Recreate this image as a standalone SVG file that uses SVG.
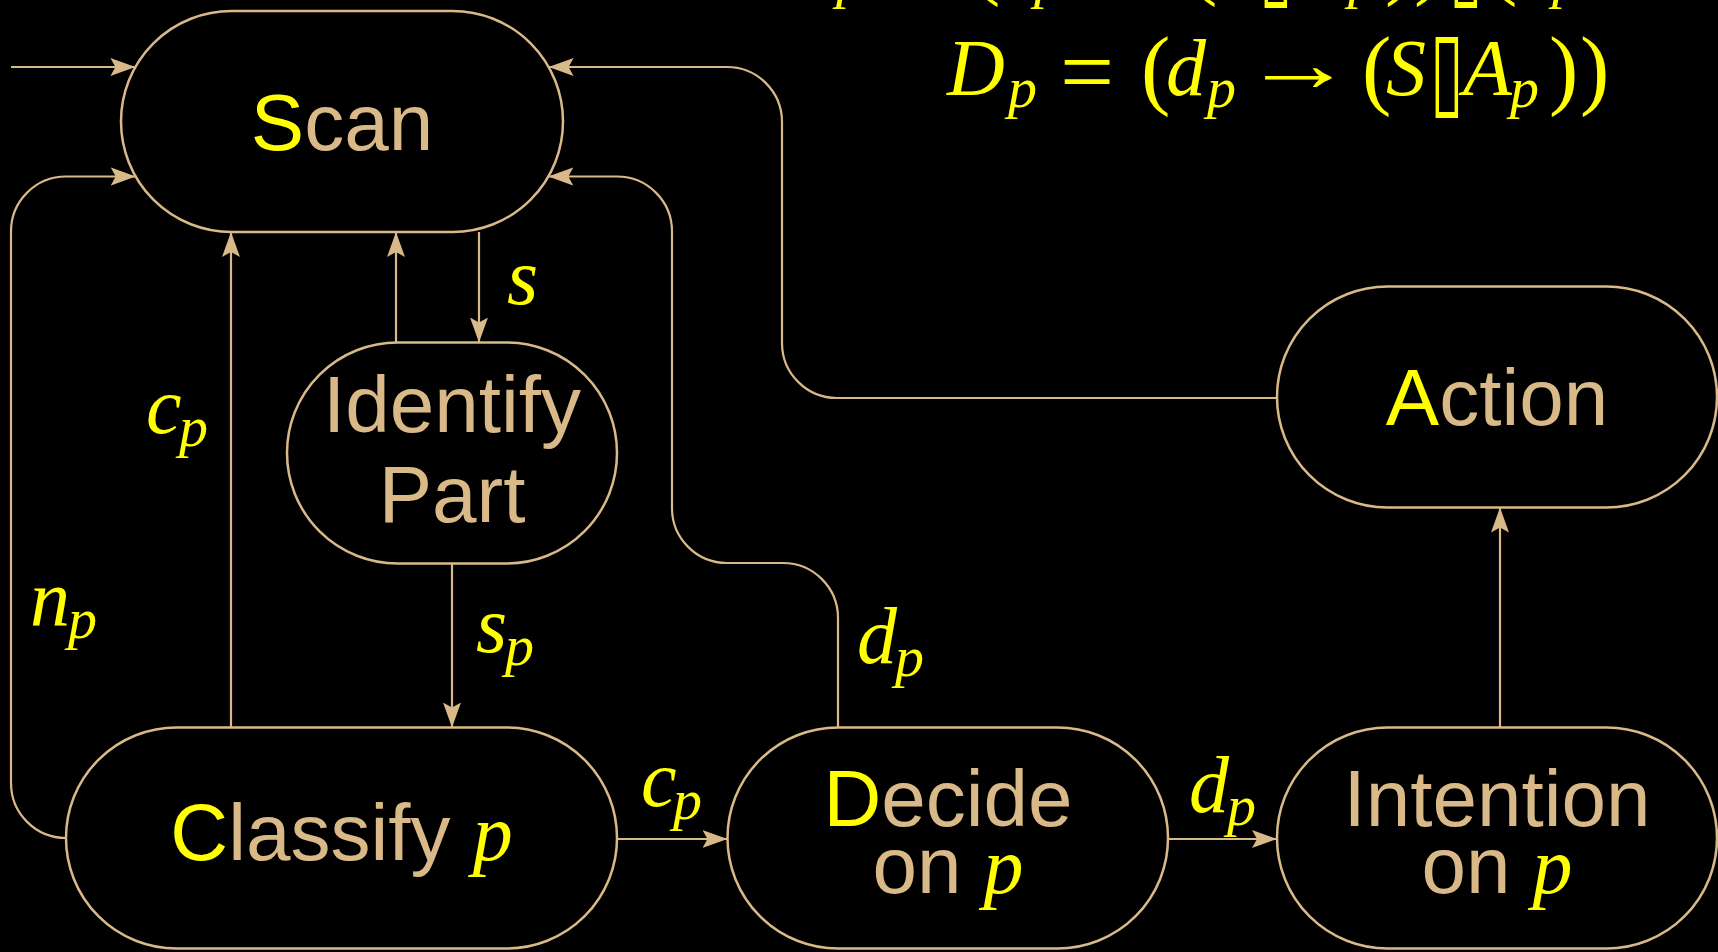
<svg xmlns="http://www.w3.org/2000/svg" width="1718" height="952" viewBox="0 0 1718 952">
<style>
.bg{fill:#000}
.node{fill:#000;stroke:#D8B987;stroke-width:2.5}
.edge{fill:none;stroke:#D8B987;stroke-width:2.2}
.lbl{font-family:"Liberation Sans",Arial,sans-serif;font-size:80px;fill:#D8B987}
.y{fill:#FFFF00}
.mi{font-family:"Liberation Serif","Times New Roman",serif;font-style:italic;fill:#FFFF00}
.m{font-family:"Liberation Serif","Times New Roman",serif;font-size:80px;font-style:italic;fill:#FFFF00}
.r{font-style:normal}
.sub{font-size:58px}
.op{font-family:"Liberation Serif","Times New Roman",serif;font-size:80px;fill:#FFFF00}
.box{font-family:"DejaVu Sans",sans-serif;font-size:80px;fill:#FFFF00}
</style>
<defs>
<marker id="ah" markerUnits="userSpaceOnUse" markerWidth="26" markerHeight="20" viewBox="0 0 26 20" refX="25" refY="10" orient="auto">
<path d="M0,1 L25,10 L0,19 L5,10 z" fill="#D8B987"/>
</marker>
</defs>
<rect class="bg" x="0" y="0" width="1718" height="952"/>

<g id="formulas">
<text class="m">
<tspan x="780" y="-15">C</tspan><tspan class="sub" x="836" y="-3">p</tspan><tspan class="r" x="885" y="-6" font-size="96">=</tspan><tspan class="r" x="971" y="-12" font-size="88">(</tspan><tspan x="996" y="-15">c</tspan><tspan class="sub" x="1034" y="-3">p</tspan><tspan class="r" x="1084" y="-19">→</tspan><tspan class="r" x="1188" y="-12" font-size="88">(</tspan><tspan x="1213" y="-15">S</tspan><tspan x="1288" y="-15">D</tspan><tspan class="sub" x="1348" y="-3">p</tspan><tspan class="r" x="1385" y="-12" font-size="88">)</tspan><tspan class="r" x="1414" y="-12" font-size="88">)</tspan><tspan class="r" x="1488" y="-12" font-size="88">(</tspan><tspan x="1512" y="-15">n</tspan><tspan class="sub" x="1552" y="-3">p</tspan><tspan class="r" x="1603" y="-19">→</tspan><tspan x="1705" y="-15">S</tspan><tspan class="r" x="1750" y="-12" font-size="88">)</tspan>
</text>
<text class="box" transform="translate(1259,-5.5) scale(0.76,1.33)">▯</text>
<text class="box" transform="translate(1449,-5.5) scale(0.76,1.33)">▯</text>
<text class="m">
<tspan x="947" y="95">D</tspan><tspan class="sub" x="1008" y="107">p</tspan><tspan class="r" x="1060" y="104" font-size="96">=</tspan><tspan class="r" x="1141" y="98" font-size="88">(</tspan><tspan x="1166" y="95">d</tspan><tspan class="sub" x="1207" y="107">p</tspan><tspan class="r" x="1362" y="98" font-size="88">(</tspan><tspan x="1386" y="95">S</tspan><tspan x="1463" y="95">A</tspan><tspan class="sub" x="1510" y="107">p</tspan><tspan class="r" x="1549" y="98" font-size="88">)</tspan><tspan class="r" x="1580" y="98" font-size="88">)</tspan>
</text>
<text class="op" transform="translate(1242,91) scale(1.4,1)">→</text>
<text class="box" transform="translate(1430,104.5) scale(0.76,1.33)">▯</text>
</g>

<g id="connectors">
<path class="edge" d="M11 67 H135.4" marker-end="url(#ah)"/>
<path class="edge" d="M66 838 A55 55 0 0 1 11 783 V231.5 A55 55 0 0 1 66 176.5 H135.7" marker-end="url(#ah)"/>
<path class="edge" d="M231 727.5 V232" marker-end="url(#ah)"/>
<path class="edge" d="M396 342.5 V232" marker-end="url(#ah)"/>
<path class="edge" d="M479 232 V342.5" marker-end="url(#ah)"/>
<path class="edge" d="M452 563.5 V727.5" marker-end="url(#ah)"/>
<path class="edge" d="M617 839 H727.5" marker-end="url(#ah)"/>
<path class="edge" d="M1168 839 H1277" marker-end="url(#ah)"/>
<path class="edge" d="M1500 727.5 V507.5" marker-end="url(#ah)"/>
<path class="edge" d="M1277 398 H837 A55 55 0 0 1 782 343 V122 A55 55 0 0 0 727 67 H548.6" marker-end="url(#ah)"/>
<path class="edge" d="M838 727.5 V618 A55 55 0 0 0 783 563 H727 A55 55 0 0 1 672 508 V231.5 A55 55 0 0 0 617 176.5 H548.3" marker-end="url(#ah)"/>
</g>

<g id="labels">
<text class="m" x="507" y="304">s</text>
<text class="m"><tspan x="146" y="433">c</tspan><tspan class="sub" x="179" y="446">p</tspan></text>
<text class="m"><tspan x="30" y="625">n</tspan><tspan class="sub" x="68" y="638">p</tspan></text>
<text class="m"><tspan x="476" y="652">s</tspan><tspan class="sub" x="505" y="665">p</tspan></text>
<text class="m"><tspan x="857" y="663">d</tspan><tspan class="sub" x="895" y="676">p</tspan></text>
<text class="m"><tspan x="641" y="806">c</tspan><tspan class="sub" x="673" y="819">p</tspan></text>
<text class="m"><tspan x="1189" y="812">d</tspan><tspan class="sub" x="1227" y="825">p</tspan></text>
</g>

<g id="scan">
<rect class="node" x="121" y="11" width="442" height="221" rx="110.5" ry="110.5"/>
<text class="lbl" x="342" y="150" text-anchor="middle"><tspan class="y">S</tspan>can</text>
</g>

<g id="identify">
<rect class="node" x="287" y="342.5" width="330" height="221" rx="110.5" ry="110.5"/>
<text class="lbl" x="452" y="432" text-anchor="middle">Identify</text>
<text class="lbl" x="452" y="522" text-anchor="middle">Part</text>
</g>

<g id="classify">
<rect class="node" x="66" y="727.5" width="551" height="221" rx="110.5" ry="110.5"/>
<text class="lbl" x="341.5" y="860" text-anchor="middle"><tspan class="y">C</tspan>lassify <tspan class="mi">p</tspan></text>
</g>

<g id="decide">
<rect class="node" x="727.5" y="727.5" width="440.5" height="221" rx="110.5" ry="110.5"/>
<text class="lbl" x="948" y="826" text-anchor="middle"><tspan class="y">D</tspan>ecide</text>
<text class="lbl" x="948" y="893" text-anchor="middle">on <tspan class="mi">p</tspan></text>
</g>

<g id="intention">
<rect class="node" x="1277" y="727.5" width="440" height="221" rx="110.5" ry="110.5"/>
<text class="lbl" x="1497" y="826" text-anchor="middle">Intention</text>
<text class="lbl" x="1497" y="893" text-anchor="middle">on <tspan class="mi">p</tspan></text>
</g>

<g id="action">
<rect class="node" x="1277" y="286.5" width="440" height="221" rx="110.5" ry="110.5"/>
<text class="lbl" x="1497" y="425" text-anchor="middle"><tspan class="y">A</tspan>ction</text>
</g>
</svg>
